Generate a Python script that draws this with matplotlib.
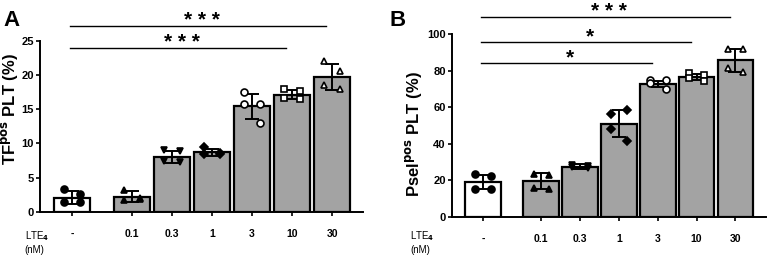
import matplotlib
matplotlib.use("Agg")
from matplotlib import pyplot as plt
import numpy as np

plt.rcParams['font.family'] = ['Liberation Sans', 'DejaVu Sans']
plt.rcParams['font.weight'] = 'bold'

# x tick labels (LTE4 concentrations)
doses = ['-', '0.1', '0.3', '1', '3', '10', '30']

# Panel A: TF pos PLT (%)
tf_mean = [2.1, 2.2, 8.0, 8.7, 15.4, 17.1, 19.7]
tf_sd = [0.95, 0.8, 0.9, 0.55, 1.85, 0.65, 1.85]
tf_points = [
    [3.3, 2.7, 1.5, 1.4],
    [3.2, 2.0, 1.8, 1.9],
    [9.0, 8.9, 7.4, 7.3],
    [9.5, 8.6, 8.5, 8.5],
    [17.5, 15.7, 15.7, 13.0],
    [17.9, 17.6, 16.6, 16.5],
    [22.0, 20.5, 18.5, 18.0],
]
tf_sig = [(0, 5, 23.9, '* * *'), (0, 6, 27.2, '* * *')]

# Panel B: Psel pos PLT (%)
ps_mean = [19.0, 19.5, 27.5, 51.0, 72.8, 76.3, 85.5]
ps_sd = [3.8, 4.4, 1.3, 7.5, 1.6, 1.7, 6.2]
ps_points = [
    [23.5, 22.5, 15.5, 15.5],
    [23.5, 23.0, 16.0, 15.5],
    [28.5, 28.0, 27.5, 27.0],
    [56.5, 58.5, 48.0, 41.5],
    [75.0, 75.0, 73.0, 70.0],
    [78.5, 77.5, 76.0, 74.5],
    [92.0, 92.0, 81.5, 79.0],
]
ps_sig = [(0, 4, 84.0, '*'), (0, 5, 95.6, '*'), (0, 6, 109.0, '* * *')]

xpos = np.array([0, 1.5, 2.5, 3.5, 4.5, 5.5, 6.5])
markers = ['o', '^', 'v', 'D', 'o', 's', '^']
filled = [True, True, True, True, False, False, False]
jitter = [-0.2, 0.2, -0.2, 0.2]


def draw_panel(ax, means, sds, points, sigs, ymax, ystep, ylabel, label_xy):
    colors = ['white'] + ['#a3a3a3'] * 6
    ax.bar(xpos, means, width=0.92, color=colors, edgecolor='black', linewidth=1.6, zorder=2)
    ax.errorbar(xpos, means, yerr=sds, fmt='none', ecolor='black', elinewidth=1.4,
                capsize=5, capthick=1.4, zorder=4)
    for i, pts in enumerate(points):
        ms = 4 if markers[i] == 'D' else 5
        ax.plot(xpos[i] + np.array(jitter), pts, linestyle='none', marker=markers[i],
                markersize=ms, markerfacecolor='black' if filled[i] else 'white',
                markeredgecolor='black', markeredgewidth=1.2, zorder=5, clip_on=False)
    for a, b, y, s in sigs:
        ax.plot([xpos[a] - 0.05, xpos[b] - 0.15], [y, y], color='black', lw=1.0, clip_on=False)
        ax.annotate(s, ((xpos[a] + xpos[b]) / 2, y), xytext=(0, 0), textcoords='offset points',
                    ha='center', va='baseline', fontsize=15, fontweight='bold',
                    annotation_clip=False)
    ax.set_xlim(-0.8, 7.28)
    ax.set_ylim(0, ymax)
    ax.set_yticks(np.arange(0, ymax + 0.1, ystep))
    ax.set_xticks(xpos)
    ax.set_xticklabels(doses, fontsize=7.5, fontweight='bold')
    ax.tick_params(axis='x', pad=9, length=3, width=1.2)
    ax.tick_params(axis='y', labelsize=8, length=3, width=1.2, pad=1.5)
    for lab in ax.get_yticklabels():
        lab.set_fontweight('bold')
    ax.spines['top'].set_visible(False)
    ax.spines['right'].set_visible(False)
    ax.spines['left'].set_linewidth(1.4)
    ax.spines['bottom'].set_linewidth(1.4)
    ax.set_ylabel(ylabel, fontsize=12, fontweight='bold')
    ax.yaxis.set_label_coords(*label_xy)


fig = plt.figure(figsize=(7.68, 2.57), dpi=100)
ax1 = fig.add_axes([0.052, 0.175, 0.421, 0.667])
ax2 = fig.add_axes([0.5885, 0.156, 0.4085, 0.712])

draw_panel(ax1, tf_mean, tf_sd, tf_points, tf_sig, 25, 5, 'TF$^{\\mathbf{pos}}$ PLT (%)',
           (-0.062, 0.6))
draw_panel(ax2, ps_mean, ps_sd, ps_points, ps_sig, 100, 20, 'Psel$^{\\mathbf{pos}}$ PLT (%)',
           (-0.09, 0.45))

fig.text(0.004, 0.922, 'A', fontsize=16, fontweight='bold', ha='left', va='center')
fig.text(0.507, 0.922, 'B', fontsize=16, fontweight='bold', ha='left', va='center')
for xf in (0.032, 0.534):
    fig.text(xf, 0.11, 'LTE$_4$\n(nM)', fontsize=7, fontweight='normal', ha='left',
             va='top', linespacing=1.3)

fig.savefig('out.png', dpi=100)
